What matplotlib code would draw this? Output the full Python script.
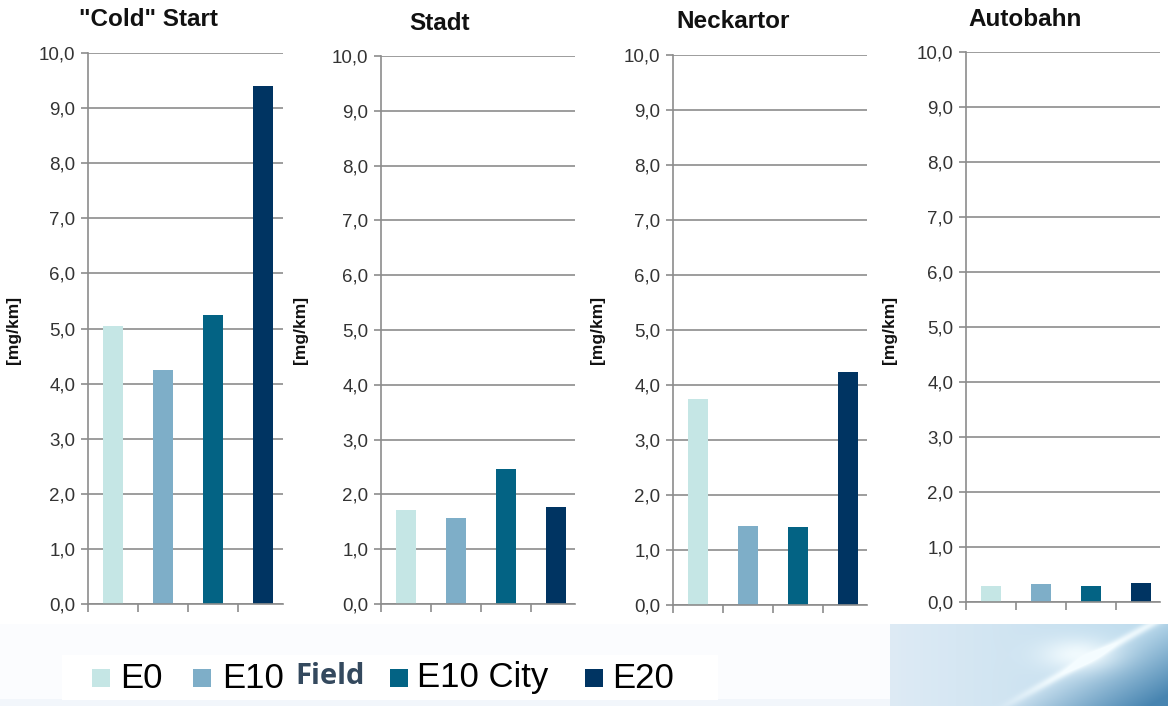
import numpy as np
import matplotlib
matplotlib.use("Agg")
import matplotlib.pyplot as plt
from matplotlib.patches import Rectangle
from matplotlib.ticker import FuncFormatter

plt.rcParams['font.family'] = ['Liberation Sans', 'DejaVu Sans']

# emissions per test cycle [mg/km]
fuels = ["E0", "E10 Field", "E10 City", "E20"]
colors = ["#c5e6e5", "#7eaec8", "#036384", "#003462"]
cycles = ['"Cold" Start', "Stadt", "Neckartor", "Autobahn"]
cold_start = [5.05, 4.25, 5.24, 9.40]
stadt = [1.72, 1.57, 2.46, 1.77]
neckartor = [3.74, 1.44, 1.41, 4.24]
autobahn = [0.30, 0.32, 0.30, 0.35]
values = [cold_start, stadt, neckartor, autobahn]
y_ticks = np.arange(0, 10.5, 1.0)

W, H = 1168, 706
fig = plt.figure(figsize=(W / 100, H / 100), dpi=100)

# slide background strip at the bottom
SH = H - 624
yy, xx = np.mgrid[0:SH, 0:W].astype(float)
img = np.ones((SH, W, 3))
img[:] = [0.988, 0.992, 0.997]
img[yy > SH - 8] = [0.95, 0.968, 0.985]
right = xx >= 890
t = np.clip((xx - 890) / 278, 0, 1)
light = np.array([0.87, 0.92, 0.96])
mid = np.array([0.74, 0.86, 0.93])
deep = np.array([0.20, 0.46, 0.65])
grad = light[None, None, :] * (1 - t[..., None]) + mid[None, None, :] * t[..., None]
# diagonal streak from top right to bottom left
d = ((xx - 1150) + yy * (147 / SH)) / np.hypot(1, 147 / SH)
below = np.clip(d / 70, 0, 1) * 0.85
grad = grad * (1 - below[..., None]) + deep[None, None, :] * below[..., None]
streak = np.exp(-(d / 4) ** 2) * np.clip((xx - 990) / 60, 0, 1)
blob = np.exp(-(((xx - 1077) / 38) ** 2 + ((yy - 30) / 16) ** 2))
glow = np.clip(streak * 0.8 + blob * 0.9, 0, 1)
grad = grad * (1 - glow[..., None]) + np.array([0.96, 0.99, 1.0])[None, None, :] * glow[..., None]
img[right] = grad[right]
bg = fig.add_axes([0, 0, 1, SH / H], zorder=-5)
bg.imshow(img, aspect="auto", interpolation="bilinear")
bg.axis("off")

# plot areas in pixels: left, right, top, bottom
rects = [(88, 283, 53, 604), (381, 575, 56, 604), (673, 867, 55, 605), (966, 1160, 52, 602)]
title_pos = [(148, 20), (440, 23), (733, 22), (1025, 19)]
ylabel_x = [21, 308, 605, 897]

fmt = FuncFormatter(lambda v, p: f"{v:.1f}".replace(".", ","))
grid_c = "#8c8c8c"

for i, (L, R, T, B) in enumerate(rects):
    ax = fig.add_axes([L / W, 1 - B / H, (R - L) / W, (B - T) / H])
    x = np.arange(len(fuels))
    ax.bar(x, values[i], width=0.4, color=colors)
    ax.set_xlim(-0.5, -0.5 + (R - L) / 50)
    ax.set_ylim(0, 10)
    ax.set_yticks(y_ticks)
    ax.yaxis.set_major_formatter(fmt)
    ax.set_xticks([-0.5, 0.5, 1.5, 2.5])
    ax.set_xticklabels([])
    ax.tick_params(axis="x", direction="out", length=6, color=grid_c, width=1.2)
    ax.tick_params(axis="y", direction="out", length=5, color=grid_c, width=1.2,
                   labelsize=13.5, labelcolor="#333333", pad=4)
    ax.set_axisbelow(True)
    ax.grid(axis="y", color=grid_c, linewidth=1.2)
    for s in ["top", "right"]:
        ax.spines[s].set_visible(False)
    for s in ["left", "bottom"]:
        ax.spines[s].set_color(grid_c)
        ax.spines[s].set_linewidth(1.2)
    ax.set_facecolor("none")
    ax.set_ylabel("[mg/km]", fontsize=12.5, fontweight="bold", color="#111111")
    ax.yaxis.set_label_coords((ylabel_x[i] - L) / (R - L), (B - 330) / (B - T))
    tx, ty = title_pos[i]
    fig.text(tx / W, 1 - ty / H, cycles[i], ha="center", va="center",
             fontsize=17.5, fontweight="bold", color="#111111")

# legend
fig.patches.append(Rectangle((62 / W, 1 - 700 / H), (718 - 62) / W, 45 / H,
                             transform=fig.transFigure, facecolor="white",
                             edgecolor="none", zorder=0))
sq_x = [92, 193, 390, 585]
txt_x = [120, 222, 417, 612]
ly = 678
for k, name in enumerate(fuels):
    fig.patches.append(Rectangle((sq_x[k] / W, 1 - (ly + 9) / H), 18 / W, 18 / H,
                                 transform=fig.transFigure, facecolor=colors[k],
                                 edgecolor="none", zorder=1))
    if name == "E10 Field":
        fig.text(txt_x[k] / W, 1 - ly / H, "E10", ha="left", va="center",
                 fontsize=25, color="black")
        fig.text(295 / W, 1 - (ly - 1) / H, "Field", ha="left", va="center",
                 fontsize=21, fontweight="bold", color="#34495e",
                 family=["Open Sans", "DejaVu Sans"])
    else:
        fig.text(txt_x[k] / W, 1 - ly / H, name, ha="left", va="center",
                 fontsize=25, color="black")

fig.savefig("out.png", dpi=100)
